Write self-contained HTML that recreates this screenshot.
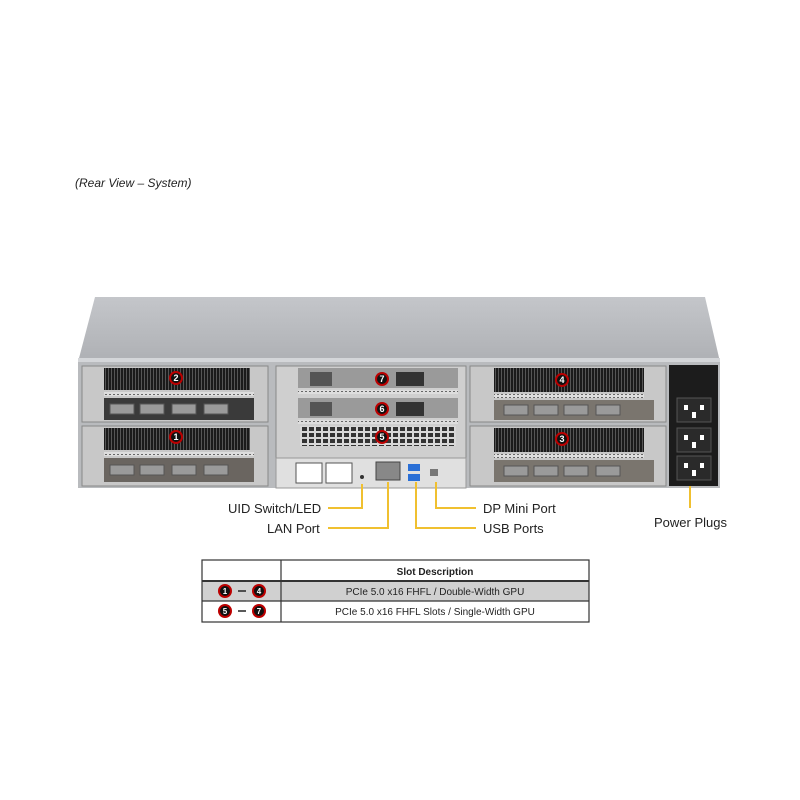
<!DOCTYPE html>
<html><head><style>
body{margin:0;background:#fff;}
svg{display:block;font-family:"Liberation Sans",Arial,sans-serif;}
</style></head><body>
<svg width="800" height="800" viewBox="0 0 800 800">
<defs>
<linearGradient id="lid" x1="0" y1="0" x2="0" y2="1"><stop offset="0" stop-color="#c4c6ca"/><stop offset="1" stop-color="#aeb0b4"/></linearGradient>
<pattern id="fins" width="3" height="10" patternUnits="userSpaceOnUse"><rect width="3" height="10" fill="#1a1a1a"/><rect width="1" height="10" fill="#555"/></pattern>
<pattern id="grill" width="7" height="6" patternUnits="userSpaceOnUse"><rect width="7" height="6" fill="#d8d8d8"/><rect x="1" y="1" width="5" height="4" fill="#333"/></pattern>
<pattern id="perf" width="4" height="3" patternUnits="userSpaceOnUse"><rect width="4" height="3" fill="#ddd"/><rect x="1" y="1" width="2" height="1" fill="#666"/></pattern>
<g id="circ"><circle r="7" fill="#b00"/><circle r="5" fill="#111"/></g>
</defs>
<text x="75" y="187" font-size="12" font-style="italic" fill="#222">(Rear View – System)</text>
<!-- lid -->
<polygon points="95,297 705,297 720,362 78,362" fill="url(#lid)"/>
<rect x="78" y="358" width="642" height="5" fill="#d4d6d9"/>
<!-- chassis front -->
<rect x="78" y="362" width="642" height="126" fill="#b9bbbe"/>
<!-- left bays -->
<g>
<rect x="82" y="366" width="186" height="56" fill="#c8c8c8" stroke="#888"/>
<rect x="104" y="368" width="146" height="22" fill="url(#fins)"/>
<rect x="104" y="392" width="150" height="4" fill="url(#perf)"/>
<rect x="104" y="398" width="150" height="22" fill="#3a3a3a"/>
<rect x="82" y="426" width="186" height="60" fill="#c8c8c8" stroke="#888"/>
<rect x="104" y="428" width="146" height="22" fill="url(#fins)"/>
<rect x="104" y="452" width="150" height="4" fill="url(#perf)"/>
<rect x="104" y="458" width="150" height="24" fill="#6a6560"/>
<g fill="#9a9a9a" stroke="#555"><rect x="110" y="404" width="24" height="10"/><rect x="140" y="404" width="24" height="10"/><rect x="172" y="404" width="24" height="10"/><rect x="204" y="404" width="24" height="10"/>
<rect x="110" y="465" width="24" height="10"/><rect x="140" y="465" width="24" height="10"/><rect x="172" y="465" width="24" height="10"/><rect x="204" y="465" width="24" height="10"/></g>
</g>
<!-- right bays -->
<g>
<rect x="470" y="366" width="196" height="56" fill="#c8c8c8" stroke="#888"/>
<rect x="494" y="368" width="150" height="24" fill="url(#fins)"/>
<rect x="494" y="394" width="150" height="4" fill="url(#perf)"/>
<rect x="494" y="400" width="160" height="20" fill="#7a756e"/>
<rect x="470" y="426" width="196" height="60" fill="#c8c8c8" stroke="#888"/>
<rect x="494" y="428" width="150" height="24" fill="url(#fins)"/>
<rect x="494" y="454" width="150" height="4" fill="url(#perf)"/>
<rect x="494" y="460" width="160" height="22" fill="#7a756e"/>
<g fill="#9a9a9a" stroke="#555"><rect x="504" y="405" width="24" height="10"/><rect x="534" y="405" width="24" height="10"/><rect x="564" y="405" width="24" height="10"/><rect x="596" y="405" width="24" height="10"/>
<rect x="504" y="466" width="24" height="10"/><rect x="534" y="466" width="24" height="10"/><rect x="564" y="466" width="24" height="10"/><rect x="596" y="466" width="24" height="10"/></g>
</g>
<!-- PSU -->
<rect x="669" y="365" width="49" height="121" fill="#1c1c1c"/>
<g fill="#2a2a2a" stroke="#555"><rect x="677" y="398" width="34" height="24"/><rect x="677" y="428" width="34" height="24"/><rect x="677" y="456" width="34" height="24"/></g>
<g fill="#fff"><rect x="684" y="405" width="4" height="5"/><rect x="700" y="405" width="4" height="5"/><rect x="692" y="412" width="4" height="6"/>
<rect x="684" y="435" width="4" height="5"/><rect x="700" y="435" width="4" height="5"/><rect x="692" y="442" width="4" height="6"/>
<rect x="684" y="463" width="4" height="5"/><rect x="700" y="463" width="4" height="5"/><rect x="692" y="470" width="4" height="6"/></g>
<!-- center -->
<rect x="276" y="366" width="190" height="92" fill="#cfcfcf" stroke="#888"/>
<rect x="298" y="368" width="160" height="20" fill="#9a9a9a"/>
<rect x="298" y="398" width="160" height="20" fill="#9a9a9a"/>
<rect x="310" y="372" width="22" height="14" fill="#555"/><rect x="310" y="402" width="22" height="14" fill="#555"/>
<rect x="396" y="372" width="28" height="14" fill="#333"/><rect x="396" y="402" width="28" height="14" fill="#333"/>
<rect x="298" y="390" width="160" height="4" fill="url(#perf)"/>
<rect x="298" y="420" width="160" height="4" fill="url(#perf)"/>
<rect x="300" y="426" width="156" height="20" fill="url(#grill)"/>
<rect x="276" y="458" width="190" height="30" fill="#e0e0e0" stroke="#999"/>
<g fill="#fff" stroke="#555"><rect x="296" y="463" width="26" height="20"/><rect x="326" y="463" width="26" height="20"/></g>
<rect x="376" y="462" width="24" height="18" fill="#888" stroke="#444"/>
<rect x="408" y="464" width="12" height="7" fill="#2a6fd6"/><rect x="408" y="474" width="12" height="7" fill="#2a6fd6"/>
<rect x="430" y="469" width="8" height="7" fill="#777"/>
<circle cx="362" cy="477" r="2" fill="#333"/>
<!-- numbers -->
<g font-size="9" font-weight="bold" fill="#fff" text-anchor="middle">
<use href="#circ" x="176" y="378"/><text x="176" y="381">2</text>
<use href="#circ" x="176" y="437"/><text x="176" y="440">1</text>
<use href="#circ" x="562" y="380"/><text x="562" y="383">4</text>
<use href="#circ" x="562" y="439"/><text x="562" y="442">3</text>
<use href="#circ" x="382" y="379"/><text x="382" y="382">7</text>
<use href="#circ" x="382" y="409"/><text x="382" y="412">6</text>
<use href="#circ" x="382" y="437"/><text x="382" y="440">5</text>
</g>
<!-- leader lines -->
<g stroke="#f0c030" stroke-width="2" fill="none">
<polyline points="328,508 362,508 362,484"/>
<polyline points="328,528 388,528 388,482"/>
<polyline points="476,528 416,528 416,482"/>
<polyline points="476,508 436,508 436,482"/>
<line x1="690" y1="486" x2="690" y2="508"/>
</g>
<g font-size="13" fill="#222">
<text x="228" y="513">UID Switch/LED</text>
<text x="267" y="533">LAN Port</text>
<text x="483" y="513">DP Mini Port</text>
<text x="483" y="533">USB Ports</text>
<text x="654" y="527">Power Plugs</text>
</g>
<!-- table -->
<rect x="202" y="581" width="387" height="20" fill="#d0d0d0"/>
<g stroke="#333" stroke-width="1.2" fill="none">
<rect x="202" y="560" width="387" height="62"/>
<line x1="281" y1="560" x2="281" y2="622"/>
<line x1="202" y1="581" x2="589" y2="581" stroke-width="2"/>
<line x1="202" y1="601" x2="589" y2="601"/>
</g>
<g font-size="10" fill="#222" text-anchor="middle">
<text x="435" y="575" font-weight="bold">Slot Description</text>
<text x="435" y="595">PCIe 5.0 x16 FHFL / Double-Width GPU</text>
<text x="435" y="615">PCIe 5.0 x16 FHFL Slots / Single-Width GPU</text>
</g>
<g font-size="8" font-weight="bold" fill="#fff" text-anchor="middle">
<use href="#circ" x="225" y="591"/><text x="225" y="594">1</text>
<use href="#circ" x="259" y="591"/><text x="259" y="594">4</text>
<use href="#circ" x="225" y="611"/><text x="225" y="614">5</text>
<use href="#circ" x="259" y="611"/><text x="259" y="614">7</text>
</g>
<g stroke="#222" stroke-width="1.5"><line x1="238" y1="591" x2="246" y2="591"/><line x1="238" y1="611" x2="246" y2="611"/></g>
</svg>
</body></html>
